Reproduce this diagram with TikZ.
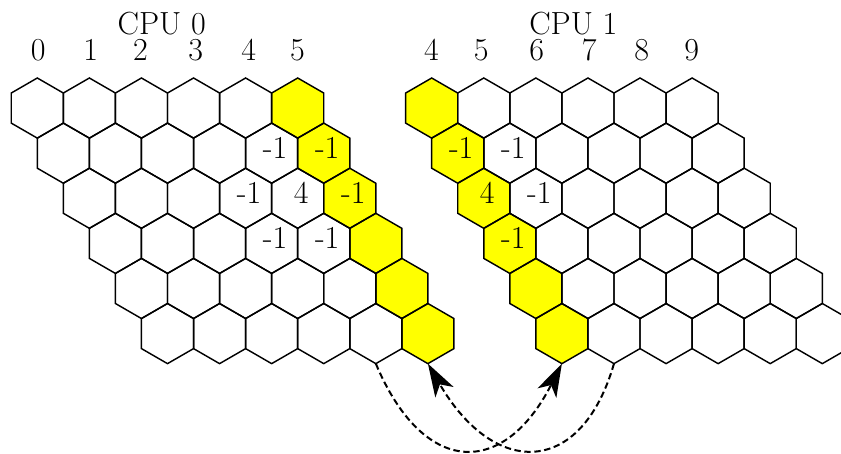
\documentclass[tikz,border=0pt]{standalone}
\usetikzlibrary{arrows.meta}
\definecolor{hexyellow}{HTML}{FFFF00}
\begin{document}
\begin{tikzpicture}[x=0.5pt,y=-0.5pt,
  hexagon/.pic={\path[pic actions] (0,-30.07) -- (26.04,-15.035) -- (26.04,15.035)
      -- (0,30.07) -- (-26.04,15.035) -- (-26.04,-15.035) -- cycle;},
  outline/.style={draw=black,line width=0.72pt},
  ghost/.style={fill=hexyellow},
  lbl/.style={font=\fontsize{16}{19}\selectfont,inner sep=0pt},
  celllabel/.style={lbl,xshift=1.75pt,yshift=2.5pt},
  exchange/.style={line width=1pt,dash pattern=on 3.2pt off 1.8pt,
      -{Stealth[length=16.5pt,width=10.5pt,inset=4.5pt]}}]
\useasboundingbox (0,0) rectangle (841,454);
\clip (0,0) rectangle (841,454);

% cell centres and bottom corners of both sub-grids (CPU 0 on the left, CPU 1 on the right)
\foreach \g/\xo in {L/37.3,R/431.7} {
  \foreach \r in {0,...,5} {
    \foreach \c in {0,...,5} {
      \coordinate (\g-\r-\c) at ({\xo+52.08*\c+26.04*\r},{108.07+45.1*\r});
      \coordinate (\g-\r-\c-s) at ({\xo+52.08*\c+26.04*\r},{138.14+45.1*\r});
    }
  }
}

% ghost columns (filled first, outlines go on top)
\foreach \r in {0,...,5} {
  \pic[ghost] at (L-\r-5) {hexagon};
  \pic[ghost] at (R-\r-0) {hexagon};
}
\foreach \g in {L,R} {
  \foreach \r in {0,...,5} {
    \foreach \c in {0,...,5} {
      \pic[outline] at (\g-\r-\c) {hexagon};
    }
  }
}

% headings
\node[lbl,anchor=base] (cpu0) at (161.7,34.3) {CPU 0};
\node[lbl,anchor=base] (cpu1) at (573.3,34.3) {CPU 1};
\foreach \n/\x in {0/38.3,1/90.8,2/140.5,3/195.8,4/248.7,5/297.5}
  \node[lbl,anchor=base] (colL-\n) at (\x,61) {\n};
\foreach \n/\x in {4/431.5,5/481.2,6/536.8,7/589.2,8/641.8,9/691.8}
  \node[lbl,anchor=base] (colR-\n) at (\x,61) {\n};

% stencil values
\node[celllabel] (vL14) at (L-1-4) {-1};
\node[celllabel] (vL15) at (L-1-5) {-1};
\node[celllabel] (vL23) at (L-2-3) {-1};
\node[celllabel] (vL24) at (L-2-4) {4};
\node[celllabel] (vL25) at (L-2-5) {-1};
\node[celllabel] (vL33) at (L-3-3) {-1};
\node[celllabel] (vL34) at (L-3-4) {-1};
\node[celllabel] (vR10) at (R-1-0) {-1};
\node[celllabel] (vR11) at (R-1-1) {-1};
\node[celllabel] (vR20) at (R-2-0) {4};
\node[celllabel] (vR21) at (R-2-1) {-1};
\node[celllabel] (vR30) at (R-3-0) {-1};

% halo exchange
\draw[exchange] (L-5-4-s) .. controls +(48,114) and +(-58,114) .. (R-5-0-s);
\draw[exchange] (R-5-1-s) .. controls +(-33,114) and +(66,114) .. (L-5-5-s);
\end{tikzpicture}
\end{document}
